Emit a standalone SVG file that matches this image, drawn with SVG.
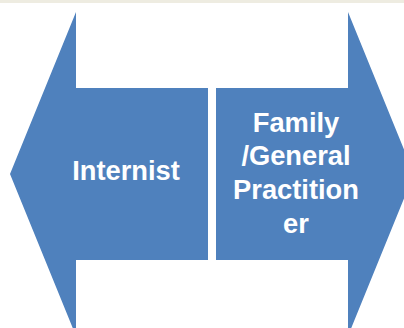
<svg xmlns="http://www.w3.org/2000/svg" width="404" height="328" viewBox="0 0 404 328">
  <style>
    .arrow { fill: #4f81bd; }
    .label { fill: #ffffff; font-family: "Liberation Sans", Arial, sans-serif; font-weight: bold; font-size: 27.3px; text-anchor: middle; }
  </style>
  <rect x="0" y="0" width="404" height="328" fill="#ffffff"/>
  <rect x="0" y="0" width="404" height="3" fill="#eeece1"/>

  <!-- left-pointing arrow -->
  <g id="internist">
    <polygon class="arrow" points="208,88 208,260 76,260 76,336 10,174 76,12 76,88"/>
    <text class="label" x="126" y="180">Internist</text>
  </g>

  <!-- right-pointing arrow -->
  <g id="family-general-practitioner">
    <polygon class="arrow" points="216,88 348,88 348,12 414,174 348,336 348,260 216,260"/>
    <text class="label" x="296" y="132">Family</text>
    <text class="label" x="296" y="165">/General</text>
    <text class="label" x="296" y="199">Practition</text>
    <text class="label" x="296" y="233">er</text>
  </g>
</svg>
